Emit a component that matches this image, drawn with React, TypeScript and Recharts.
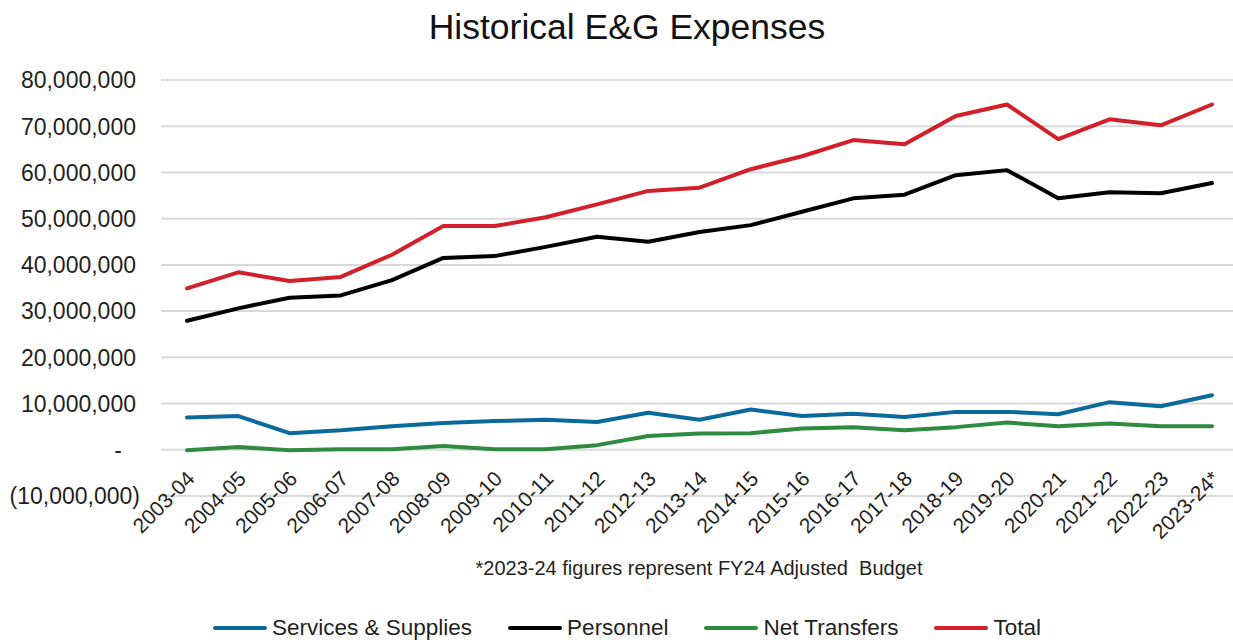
import { LineChart, Line, XAxis, YAxis, CartesianGrid } from "recharts";

const years = [
  "2003-04", "2004-05", "2005-06", "2006-07", "2007-08", "2008-09", "2009-10",
  "2010-11", "2011-12", "2012-13", "2013-14", "2014-15", "2015-16", "2016-17",
  "2017-18", "2018-19", "2019-20", "2020-21", "2021-22", "2022-23", "2023-24*",
];

const servicesSupplies = [
  7000000, 7300000, 3600000, 4200000, 5100000, 5800000, 6200000, 6500000, 6000000, 8000000,
  6500000, 8700000, 7300000, 7800000, 7100000, 8200000, 8200000, 7700000, 10300000, 9400000, 11800000,
];

const personnel = [
  27900000, 30600000, 32900000, 33400000, 36700000, 41500000, 41900000, 43900000, 46100000, 45000000,
  47100000, 48600000, 51500000, 54400000, 55200000, 59400000, 60500000, 54400000, 55700000, 55500000, 57700000,
];

const netTransfers = [
  -100000, 600000, -100000, 100000, 100000, 800000, 100000, 100000, 1000000, 3000000,
  3500000, 3600000, 4600000, 4900000, 4200000, 4900000, 5900000, 5100000, 5700000, 5100000, 5100000,
];

const total = [
  34900000, 38400000, 36500000, 37400000, 42200000, 48400000, 48400000, 50300000, 53100000, 56000000,
  56700000, 60700000, 63500000, 67000000, 66100000, 72200000, 74700000, 67200000, 71500000, 70200000, 74700000,
];

const yTicks = [-10000000, 0, 10000000, 20000000, 30000000, 40000000, 50000000, 60000000, 70000000, 80000000];

const SERIES = [
  { key: "services", name: "Services & Supplies", color: "#0b6a9c" },
  { key: "personnel", name: "Personnel", color: "#000000" },
  { key: "transfers", name: "Net Transfers", color: "#2e8b40" },
  { key: "total", name: "Total", color: "#d21f29" },
];

const FONT = "'Liberation Sans', Arial, sans-serif";
const TEXT = "#1f1f1f";

const data = years.map((year, i) => ({
  year,
  services: servicesSupplies[i],
  personnel: personnel[i],
  transfers: netTransfers[i],
  total: total[i],
}));

function fmt(v: number): string {
  if (v === 0) return "-";
  const s = Math.abs(v).toLocaleString("en-US");
  return v < 0 ? `(${s})` : s;
}

function YTick(props: any) {
  const { x, y, payload } = props;
  const v = payload.value as number;
  const shift = v === 0 ? 39 : v < 0 ? 21 : 25;
  return (
    <text x={x - shift} y={y} dy="0.36em" textAnchor="end" fill={TEXT} fontSize={23} fontFamily={FONT}>
      {fmt(v)}
    </text>
  );
}

function XTick(props: any) {
  const { x, y, payload } = props;
  const ax = x + 9;
  const ay = y - 16;
  return (
    <text
      x={ax}
      y={ay}
      textAnchor="end"
      transform={`rotate(-45, ${ax}, ${ay})`}
      fill={TEXT}
      fontSize={21}
      fontFamily={FONT}
    >
      {payload.value}
    </text>
  );
}

export default function App() {
  return (
    <div style={{ position: "absolute", left: 0, top: 0, width: 1233, height: 642, background: "#fff", fontFamily: FONT }}>
      <div
        style={{
          position: "absolute",
          top: 10,
          left: 627,
          transform: "translateX(-50%)",
          fontSize: 35.5,
          lineHeight: 1,
          color: "#111",
          whiteSpace: "nowrap",
        }}
      >
        Historical E&amp;G Expenses
      </div>

      <LineChart width={1233} height={642} data={data} margin={{ top: 80, right: -5, bottom: 0, left: 0 }}>
        <CartesianGrid vertical={false} stroke="#d9d9d9" strokeWidth={2} />
        <XAxis
          dataKey="year"
          interval={0}
          axisLine={false}
          tickLine={false}
          tickSize={0}
          tickMargin={0}
          height={146}
          padding={{ left: 26, right: 26 }}
          tick={<XTick />}
        />
        <YAxis
          domain={[-10000000, 80000000]}
          ticks={yTicks}
          axisLine={false}
          tickLine={false}
          tickSize={0}
          tickMargin={0}
          width={161}
          tick={<YTick />}
        />
        {SERIES.map((s) => (
          <Line
            key={s.key}
            type="linear"
            dataKey={s.key}
            name={s.name}
            stroke={s.color}
            strokeWidth={4}
            strokeLinecap="round"
            strokeLinejoin="round"
            dot={false}
            activeDot={false}
            isAnimationActive={false}
          />
        ))}
      </LineChart>

      <div
        style={{
          position: "absolute",
          top: 558,
          left: 699,
          transform: "translateX(-50%)",
          fontSize: 20,
          lineHeight: 1,
          color: TEXT,
          whiteSpace: "pre",
        }}
      >
        {"*2023-24 figures represent FY24 Adjusted  Budget"}
      </div>

      <div
        style={{
          position: "absolute",
          top: 617,
          left: 213,
          display: "flex",
          alignItems: "center",
          fontSize: 22.5,
          lineHeight: 1,
          color: TEXT,
          whiteSpace: "nowrap",
        }}
      >
        {SERIES.map((s) => (
          <div key={s.key} style={{ display: "flex", alignItems: "center", marginRight: 36 }}>
            <span
              style={{
                display: "inline-block",
                width: 54,
                height: 4,
                borderRadius: 2,
                background: s.color,
                marginRight: 5,
              }}
            />
            <span>{s.name}</span>
          </div>
        ))}
      </div>
    </div>
  );
}
